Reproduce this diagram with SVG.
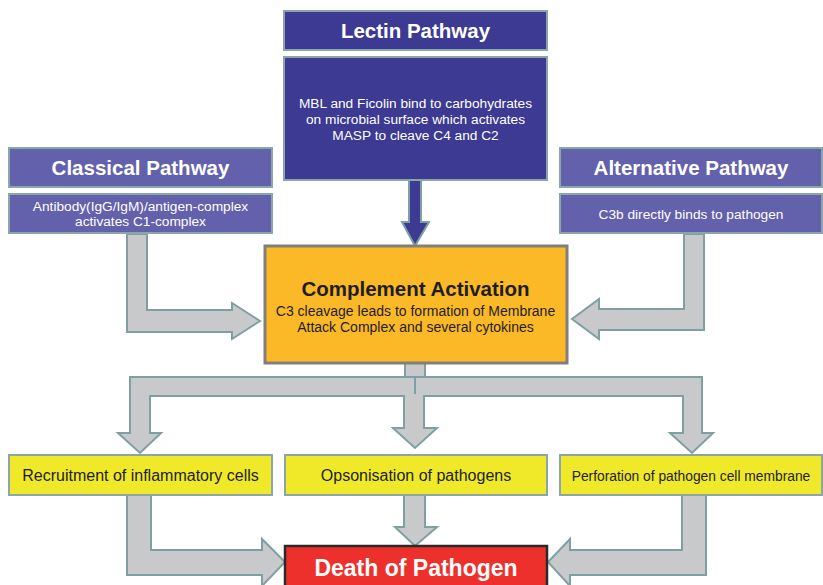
<svg xmlns="http://www.w3.org/2000/svg" width="823" height="585" viewBox="0 0 823 585">
<style>
  text { font-family: "Liberation Sans", Arial, sans-serif; text-anchor: middle; }
  .box { stroke: #8aa6a8; stroke-width: 2; }
  .dark { fill: #3c3a92; }
  .mid { fill: #6361ab; }
  .yel { fill: #efe92a; }
  .arrow { fill: #c8c9ca; stroke: #7f9fa2; stroke-width: 2; stroke-linejoin: miter; }
  .title { font-weight: bold; font-size: 20.5px; fill: #ffffff; }
  .wt { font-size: 13.7px; fill: #ffffff; }
  .bt { font-size: 16px; fill: #1e1e1e; }
</style>
<g id="connectors">
  <polygon class="arrow" points="409,180 421,180 421,222 429,222 415,246 402,222 409,222" style="fill:#3c3a92"/>
  <polygon class="arrow" points="127,234 147,234 147,310 232,310 232,303 260,321 232,339 232,332 127,332"/>
  <polygon class="arrow" points="684,234 704,234 704,330 599,330 599,339 572,319 599,299 599,309 684,309"/>
  <rect class="arrow" x="405" y="362" width="20" height="15"/>
  <polygon class="arrow" points="415,377 130,377 130,433 118,433 140,453 161,433 150,433 150,396 415,396"/>
  <polygon class="arrow" points="415,377 702,377 702,433 713,433 692,453 670,433 683,433 683,396 415,396"/>
  <polygon class="arrow" points="404,397 424,397 424,428 437,428 415,448 393,428 404,428"/>
  <rect x="405" y="394" width="18" height="5" fill="#c8c9ca"/>
  <polygon class="arrow" points="127,495 151,495 151,550 262,550 262,539 285,562 262,586 262,575 127,575"/>
  <polygon class="arrow" points="404,495 425,495 425,527 437,527 415,546 395,527 404,527"/>
  <polygon class="arrow" points="682,495 706,495 706,575 570,575 570,586 548,562 570,539 570,550 682,550"/>
</g>
<g id="lectin-title">
  <rect class="box dark" x="284" y="11" width="263" height="39"/>
  <text class="title" x="415.5" y="38">Lectin Pathway</text>
</g>
<g id="lectin-body">
  <rect class="box dark" x="284" y="57" width="263" height="123"/>
  <text class="wt" x="415.5" y="108">MBL and Ficolin bind to carbohydrates</text>
  <text class="wt" x="415.5" y="124">on microbial surface which activates</text>
  <text class="wt" x="415.5" y="140">MASP to cleave C4 and C2</text>
</g>
<g id="classical-title">
  <rect class="box mid" x="9" y="148" width="263" height="39"/>
  <text class="title" x="140.5" y="175">Classical Pathway</text>
</g>
<g id="classical-body">
  <rect class="box mid" x="9" y="194" width="263" height="39"/>
  <text class="wt" x="140.5" y="211">Antibody(IgG/IgM)/antigen-complex</text>
  <text class="wt" x="140.5" y="226">activates C1-complex</text>
</g>
<g id="alternative-title">
  <rect class="box mid" x="560" y="148" width="262" height="39"/>
  <text class="title" x="691" y="175">Alternative Pathway</text>
</g>
<g id="alternative-body">
  <rect class="box mid" x="560" y="194" width="262" height="39"/>
  <text class="wt" x="691" y="218.5">C3b directly binds to pathogen</text>
</g>
<g id="complement">
  <rect x="265" y="246" width="302" height="117" fill="#fbb827" stroke="#7f7f7f" stroke-width="3"/>
  <text x="415.5" y="296" style="font-weight:bold;font-size:20.5px;fill:#1e1e1e">Complement Activation</text>
  <text x="415.5" y="315.5" style="font-size:14px;fill:#1e1e1e">C3 cleavage leads to formation of Membrane</text>
  <text x="415.5" y="332" style="font-size:14px;fill:#1e1e1e">Attack Complex and several cytokines</text>
</g>
<g id="recruitment">
  <rect class="box yel" x="9" y="455" width="263" height="40"/>
  <text class="bt" x="140.5" y="481">Recruitment of inflammatory cells</text>
</g>
<g id="opsonisation">
  <rect class="box yel" x="285" y="455" width="262" height="40"/>
  <text class="bt" x="416" y="481">Opsonisation of pathogens</text>
</g>
<g id="perforation">
  <rect class="box yel" x="560" y="455" width="262" height="40"/>
  <text class="bt" x="691" y="481" style="font-size:13.8px">Perforation of pathogen cell membrane</text>
</g>
<g id="death">
  <rect x="285" y="546" width="262" height="45" fill="#ee302d" stroke="#2a2a2a" stroke-width="2.5"/>
  <text x="416" y="576" style="font-weight:bold;font-size:23px;fill:#ffffff">Death of Pathogen</text>
</g>
</svg>
